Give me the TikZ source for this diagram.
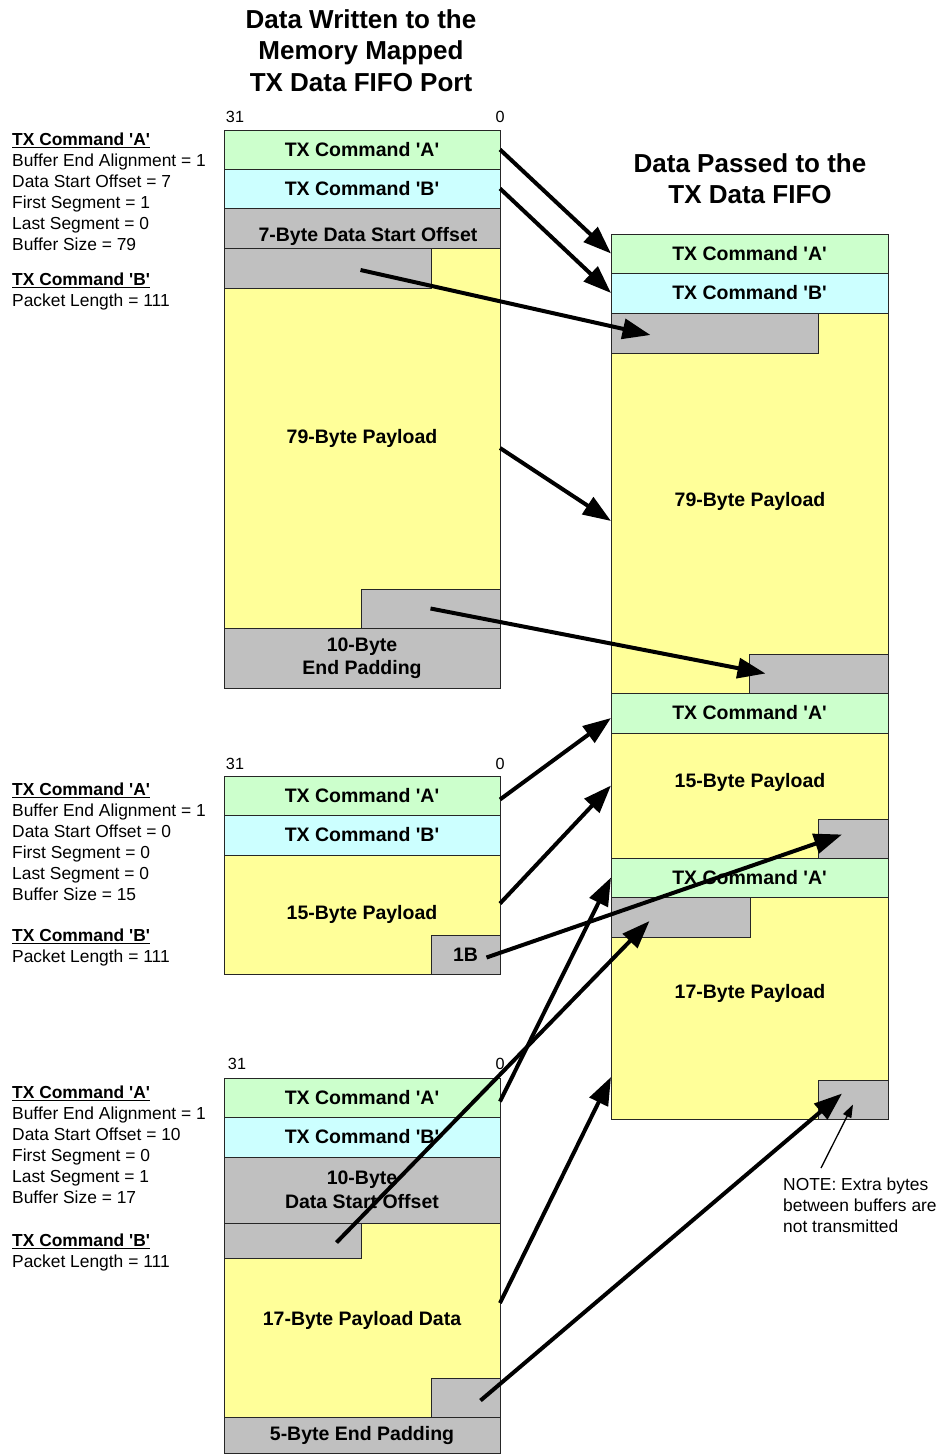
\documentclass[tikz,border=0pt]{standalone}
\usepackage{fontspec}
\setmainfont{Liberation Sans}
\usetikzlibrary{arrows.meta}
\definecolor{cmdagreen}{HTML}{CCFFCC}
\definecolor{cmdbcyan}{HTML}{CCFFFF}
\definecolor{payyellow}{HTML}{FFFF99}
\definecolor{padgray}{HTML}{C0C0C0}
\newcommand{\txa}{TX Command \textquotesingle A\textquotesingle}
\newcommand{\txb}{TX Command \textquotesingle B\textquotesingle}

\begin{document}
\begin{tikzpicture}[x=1pt,y=-1pt,
  cell/.style={draw=black!85,line width=0.8pt,inner sep=0pt,outer sep=0pt,anchor=north west,align=center,
    font=\bfseries\fontsize{19.5}{23.5}\selectfont},
  cmdA/.style={cell,fill=cmdagreen},
  cmdB/.style={cell,fill=cmdbcyan},
  payload/.style={cell,fill=payyellow},
  padding/.style={cell,fill=padgray},
  lbl/.style={inner sep=0pt,font=\bfseries\fontsize{19.5}{23.5}\selectfont},
  title/.style={anchor=north,align=center,inner sep=0pt,font=\bfseries\fontsize{26}{31.5}\selectfont},
  info/.style={anchor=north west,align=left,inner sep=0pt,font=\fontsize{17.4}{21}\selectfont},
  bits/.style={inner sep=0pt,font=\fontsize{16.2}{19}\selectfont},
  move/.style={line width=4pt,-{Triangle[length=28pt,width=20pt]}},
  hint/.style={line width=1.3pt,-{Triangle[length=13pt,width=9pt]}}]
\useasboundingbox (0,0) rectangle (942,1454);

% titles
\node[title] (t1) at (361,9) {Data Written to the\\Memory Mapped\\TX Data FIFO Port};
\node[title] (t2) at (750,153) {Data Passed to the\\TX Data FIFO};

% first buffer
\node[bits] (w1hi) at (235,117) {31};
\node[bits] (w1lo) at (500,117) {0};
\node[cmdA,minimum width=276pt,minimum height=39pt] (w1a) at (224,130) {\txa};
\node[cmdB,minimum width=276pt,minimum height=39pt] (w1b) at (224,169) {\txb};
\node[padding,minimum width=276pt,minimum height=40pt] (w1off) at (224,208) {};
\node[lbl] (w1offl) at (368,236) {7-Byte Data Start Offset};
\node[payload,minimum width=276pt,minimum height=380pt] (w1pay) at (224,248) {79-Byte Payload};
\node[padding,minimum width=207pt,minimum height=40pt] (w1g) at (224,248) {};
\node[padding,minimum width=139pt,minimum height=39pt] (w1e) at (361,589) {};
\node[padding,minimum width=276pt,minimum height=60pt] (w1pad) at (224,628) {10-Byte\\End Padding};
\node[info] (i1) at (12,132.5) {\underline{\textbf{\txa}}\\
  Buffer End Alignment = 1\\ Data Start Offset = 7\\ First Segment = 1\\
  Last Segment = 0\\ Buffer Size = 79\\[14pt]
  \underline{\textbf{\txb}}\\ Packet Length = 111};

% second buffer
\node[bits] (w2hi) at (235,764) {31};
\node[bits] (w2lo) at (500,764) {0};
\node[cmdA,minimum width=276pt,minimum height=39pt] (w2a) at (224,776) {\txa};
\node[cmdB,minimum width=276pt,minimum height=40pt] (w2b) at (224,815) {\txb};
\node[payload,minimum width=276pt,minimum height=119pt] (w2pay) at (224,855) {15-Byte Payload};
\node[padding,minimum width=69pt,minimum height=39pt] (w2g) at (431,935) {1B};
\node[info] (i2) at (12,782.5) {\underline{\textbf{\txa}}\\
  Buffer End Alignment = 1\\ Data Start Offset = 0\\ First Segment = 0\\
  Last Segment = 0\\ Buffer Size = 15\\[20pt]
  \underline{\textbf{\txb}}\\ Packet Length = 111};

% third buffer
\node[bits] (w3hi) at (237,1064) {31};
\node[bits] (w3lo) at (500,1064) {0};
\node[cmdA,minimum width=276pt,minimum height=39pt] (w3a) at (224,1078) {\txa};
\node[cmdB,minimum width=276pt,minimum height=40pt] (w3b) at (224,1117) {\txb};
\node[padding,minimum width=276pt,minimum height=66pt] (w3off) at (224,1157) {10-Byte\\Data Start Offset};
\node[payload,minimum width=276pt,minimum height=194pt] (w3pay) at (224,1223) {17-Byte Payload Data};
\node[padding,minimum width=137pt,minimum height=35pt] (w3g) at (224,1223) {};
\node[padding,minimum width=69pt,minimum height=39pt] (w3e) at (431,1378) {};
\node[padding,minimum width=276pt,minimum height=36.5pt] (w3pad) at (224,1417) {5-Byte End Padding};
\node[info] (i3) at (12,1085.5) {\underline{\textbf{\txa}}\\
  Buffer End Alignment = 1\\ Data Start Offset = 10\\ First Segment = 0\\
  Last Segment = 1\\ Buffer Size = 17\\[22pt]
  \underline{\textbf{\txb}}\\ Packet Length = 111};

% TX data FIFO
\node[cmdA,minimum width=277pt,minimum height=39pt] (fa) at (611,234) {\txa};
\node[cmdB,minimum width=277pt,minimum height=40pt] (fb) at (611,273) {\txb};
\node[payload,minimum width=277pt,minimum height=380pt] (fpay1) at (611,313) {};
\node[padding,minimum width=207pt,minimum height=40pt] (fg1) at (611,313) {};
\node[padding,minimum width=139pt,minimum height=39pt] (fe1) at (749,654) {};
\node[cmdA,minimum width=277pt,minimum height=40pt] (fa2) at (611,693) {\txa};
\node[payload,minimum width=277pt,minimum height=125pt] (fpay2) at (611,733) {};
\node[padding,minimum width=70pt,minimum height=39pt] (fe2) at (818,819) {};
\node[cmdA,minimum width=277pt,minimum height=39pt] (fa3) at (611,858) {\txa};
\node[payload,minimum width=277pt,minimum height=222pt] (fpay3) at (611,897) {};
\node[padding,minimum width=139pt,minimum height=40pt] (fg3) at (611,897) {};
\node[padding,minimum width=70pt,minimum height=39pt] (fe3) at (818,1080) {};
\node[lbl] (l1) at (750,501) {79-Byte Payload};
\node[lbl] (l2) at (750,782) {15-Byte Payload};
\node[lbl] (l3) at (750,993) {17-Byte Payload};
\node[info] (note) at (783,1178) {NOTE: Extra bytes\\between buffers are\\not transmitted};

% where the words go
\draw[move] (w1a.east) -- (fa.west);
\draw[move] (w1b.east) -- (fb.west);
\draw[move] ([xshift=33pt,yshift=-2pt]w1g.center) -- ([xshift=-64pt,yshift=-2pt]fg1.center);
\draw[move] ([yshift=-10pt]w1pay.east) -- ([yshift=-18pt]fpay1.west);
\draw[move] (w1e.center) -- ([xshift=-53pt]fe1.center);
\draw[move] ([yshift=-4pt]w2a.east) -- ([yshift=-5pt]fa2.west);
\draw[move] ([yshift=11pt]w2pay.east) -- ([yshift=10pt]fpay2.west);
\draw[move] ([xshift=21pt,yshift=-3pt]w2g.center) -- ([xshift=-11pt,yshift=4pt]fe2.center);
\draw[move] ([yshift=-4pt]w3a.east) -- (fa3.west);
\draw[move] ([xshift=44pt,yshift=-2pt]w3g.center) -- ([xshift=-31pt,yshift=-4pt]fg3.center);
\draw[move] ([yshift=17pt]w3pay.east) -- ([yshift=-69pt]fpay3.west);
\draw[move] ([xshift=15pt,yshift=-3pt]w3e.center) -- ([xshift=-11pt,yshift=6pt]fe3.center);
\draw[hint] ([xshift=38pt,yshift=10pt]note.north west) -- ([yshift=-5pt]fe3.center);
\end{tikzpicture}
\end{document}
